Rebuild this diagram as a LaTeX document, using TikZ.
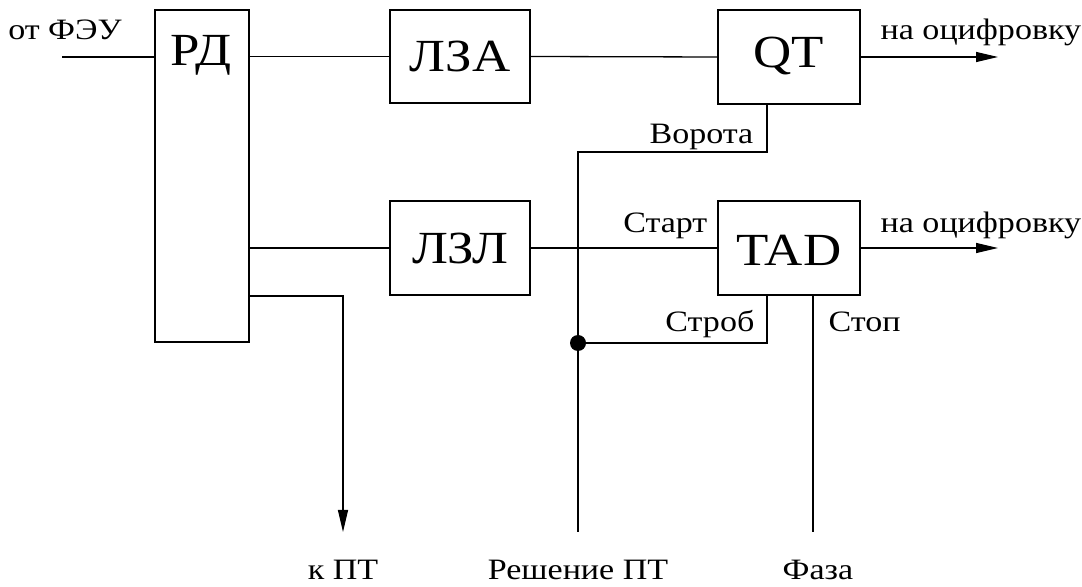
\documentclass[tikz,border=0pt]{standalone}
\usepackage{fontspec}
\setmainfont{Liberation Serif}[FakeStretch=1.15]
\usetikzlibrary{arrows.meta,fit}
\begin{document}
\begin{tikzpicture}[x=0.5pt,y=-0.5pt,
  line width=0.65pt,
  box/.style={draw,rectangle,inner sep=0pt},
  big/.style={font=\fontsize{23}{27}\selectfont,inner sep=0pt},
  small/.style={font=\fontsize{14.8}{17}\selectfont,inner sep=0pt},
  arr/.style={-{Triangle[length=11pt,width=5pt]}},
  junction/.style={fill,circle,inner sep=0pt,minimum size=8pt}]
\useasboundingbox (0,0) rectangle (1082,587);

% blocks
\node[box,fit={(155,10) (249,342)}] (rd) {};
\node[box,fit={(390,10) (530,103)}] (lza) {};
\node[box,fit={(718,10) (860,104)}] (qt) {};
\node[box,fit={(390,201) (530,295)}] (lzl) {};
\node[box,fit={(718,201) (860,295)}] (tad) {};

\node[big] (rdt) at (201,55) {РД};
\node[big] (lzat) at (460,56) {ЛЗА};
\node[big] (qtt) at (789,56) {QT};
\node[big] (lzlt) at (460,248) {ЛЗЛ};
\node[big] (tadt) at (789,250) {TAD};

% end points and bends
\coordinate (in) at (62,57);
\coordinate (out1) at (998,57);
\coordinate (out2) at (998,248);
\coordinate (gx) at (767,0);
\coordinate (gate) at (578,152);
\coordinate (strob) at (578,343);
\coordinate (dec) at (578,532);
\coordinate (phase) at (813,532);
\coordinate (kturn) at (343,296);
\coordinate (kpt) at (343,532);

% signal paths
\draw (in) -- (in -| rd.west);
\draw (lza.west -| rd.east) -- (lza.west);
\draw (lza.east) -- (qt.west);
\draw[arr] (qt.east) -- (out1);
\draw (lzl.west -| rd.east) -- (lzl.west);
\draw (lzl.east) -- (tad.west);
\draw[arr] (tad.east) -- (out2);
\draw (qt.south -| gx) |- (gate) -- (dec);
\draw (tad.south -| gx) |- (strob);
\node[junction] (jn) at (strob) {};
\draw (tad.south -| phase) -- (phase);
\draw[arr] (kturn -| rd.east) -- (kturn) -- (kpt);

% labels
\node[small,anchor=base] (src) at (65,40) {от ФЭУ};
\node[small,anchor=base west] (dig1) at (880,40) {на оцифровку};
\node[small,anchor=base west] (dig2) at (880,233) {на оцифровку};
\node[small,anchor=base east] (gatet) at (754,144) {Ворота};
\node[small,anchor=base east] (startt) at (708,233) {Старт};
\node[small,anchor=base east] (strobt) at (755,332) {Строб};
\node[small,anchor=base west] (stopt) at (828,332) {Стоп};
\node[small,anchor=base] (kptt) at (343,580) {к ПТ};
\node[small,anchor=base] (dect) at (578,580) {Решение ПТ};
\node[small,anchor=base] (phaset) at (818,580) {Фаза};
\end{tikzpicture}
\end{document}
